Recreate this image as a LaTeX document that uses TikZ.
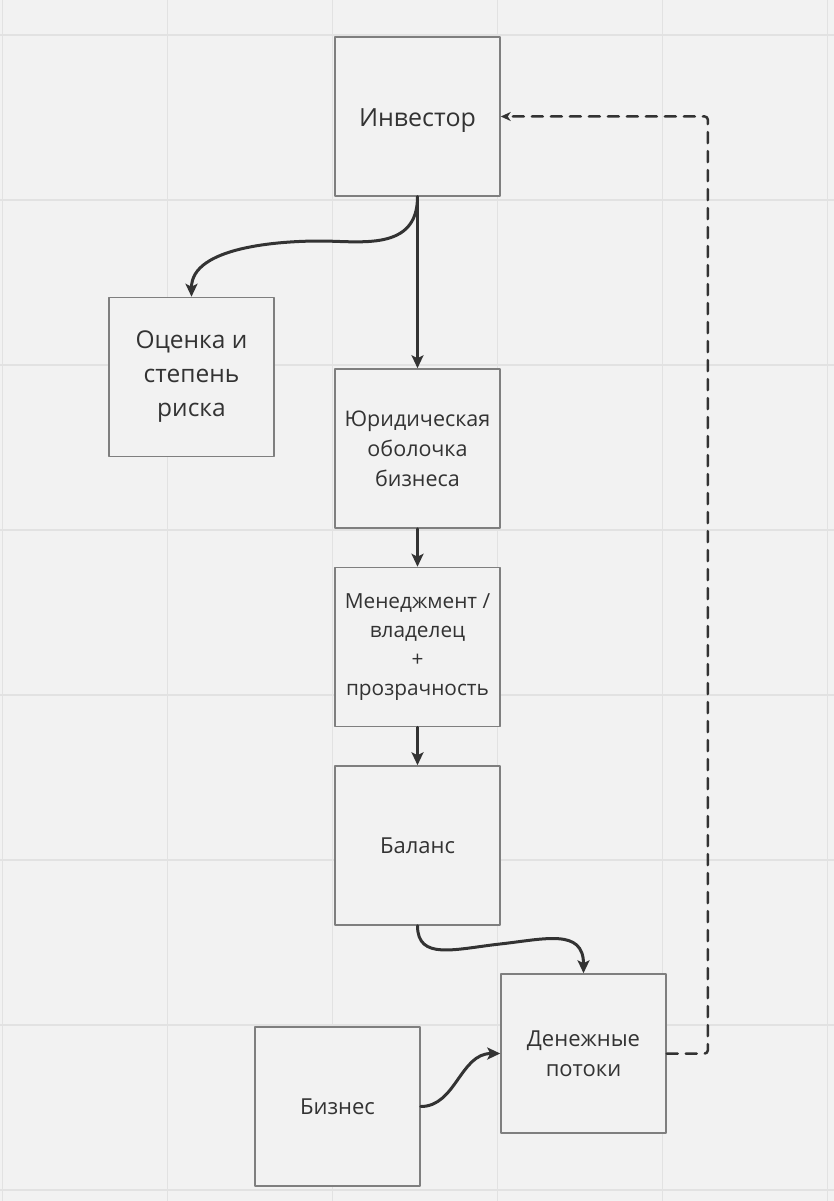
\documentclass[tikz,border=0pt]{standalone}
\usepackage{fontspec}
\setmainfont{Open Sans}
\usetikzlibrary{arrows.meta,positioning}
\definecolor{bgcol}{HTML}{F2F2F2}
\definecolor{gridcol}{HTML}{E2E2E2}
\definecolor{boxline}{HTML}{7F7F7F}
\definecolor{inkcol}{HTML}{333333}
\tikzstyle{every node}=[font=\fontsize{22}{30}\selectfont,text=inkcol]
\tikzstyle{every path}=[line cap=round,line join=round]
\tikzset{
  stepbox/.style={draw=boxline,line width=1.5pt,fill=bgcol,minimum width=165pt,
    minimum height=159pt,align=center,inner sep=0pt},
  flow/.style={draw=inkcol,line width=3pt,-{Stealth[length=13pt,width=12pt,inset=3pt]}},
  back/.style={draw=inkcol,line width=2.5pt,dash pattern=on 11pt off 8pt,rounded corners=3pt,
    -{Stealth[length=10pt,width=9pt,inset=3pt]}}
}

\begin{document}
\begin{tikzpicture}[x=1pt,y=-1pt]
  \fill[bgcol] (0,0) rectangle (834,1201);
  \useasboundingbox (0,0) rectangle (834,1201);
  % grid
  \foreach \gx in {2.5,167.5,...,830}
    \draw[gridcol,line width=1.5pt] (\gx,0) -- (\gx,1201);
  \foreach \gy in {35,200,...,1195}
    \draw[gridcol,line width=1.5pt] (0,\gy) -- (834,\gy);

  \node[stepbox,font=\fontsize{25}{34}\selectfont,text height=22pt,text depth=2pt] (investor) at (417.5,116.5) {Инвестор};
  \node[stepbox,font=\fontsize{24.5}{34}\selectfont] (ocenka) at (191.5,377) {Оценка и\\степень\\риска};
  \node[stepbox,font=\fontsize{21.5}{30}\selectfont] (yurid) at (417.5,448.5) {Юридическая\\оболочка\\бизнеса};
  \node[stepbox,font=\fontsize{20.8}{29}\selectfont,below=38pt of yurid] (menedzh) {Менеджмент /\\владелец\\+\\прозрачность};
  \node[stepbox,below=38pt of menedzh] (balans) {Баланс};
  \node[stepbox] (dengi) at (583.5,1053.5) {Денежные\\потоки};
  \node[stepbox] (biznes) at (337.5,1106.5) {Бизнес};

  \draw[flow] (investor.south) -- (yurid.north);
  \draw[flow] (investor.south) .. controls +(0,55) and +(40,0) .. (320,241)
    .. controls +(-40,0) and +(0,-50) .. (ocenka.north);
  \draw[flow] (yurid.south) -- (menedzh.north);
  \draw[flow] (menedzh.south) -- (balans.north);
  \draw[flow] (balans.south) .. controls +(0,35) and +(-45,5) .. (500,944)
    .. controls +(45,-5) and +(0,-45) .. (dengi.north);
  \draw[flow] (biznes.east) .. controls +(35,0) and +(-40,0) .. (dengi.west);
  \draw[back] (dengi.east) -- ++(41,0) |- (investor.east);
\end{tikzpicture}
\end{document}
